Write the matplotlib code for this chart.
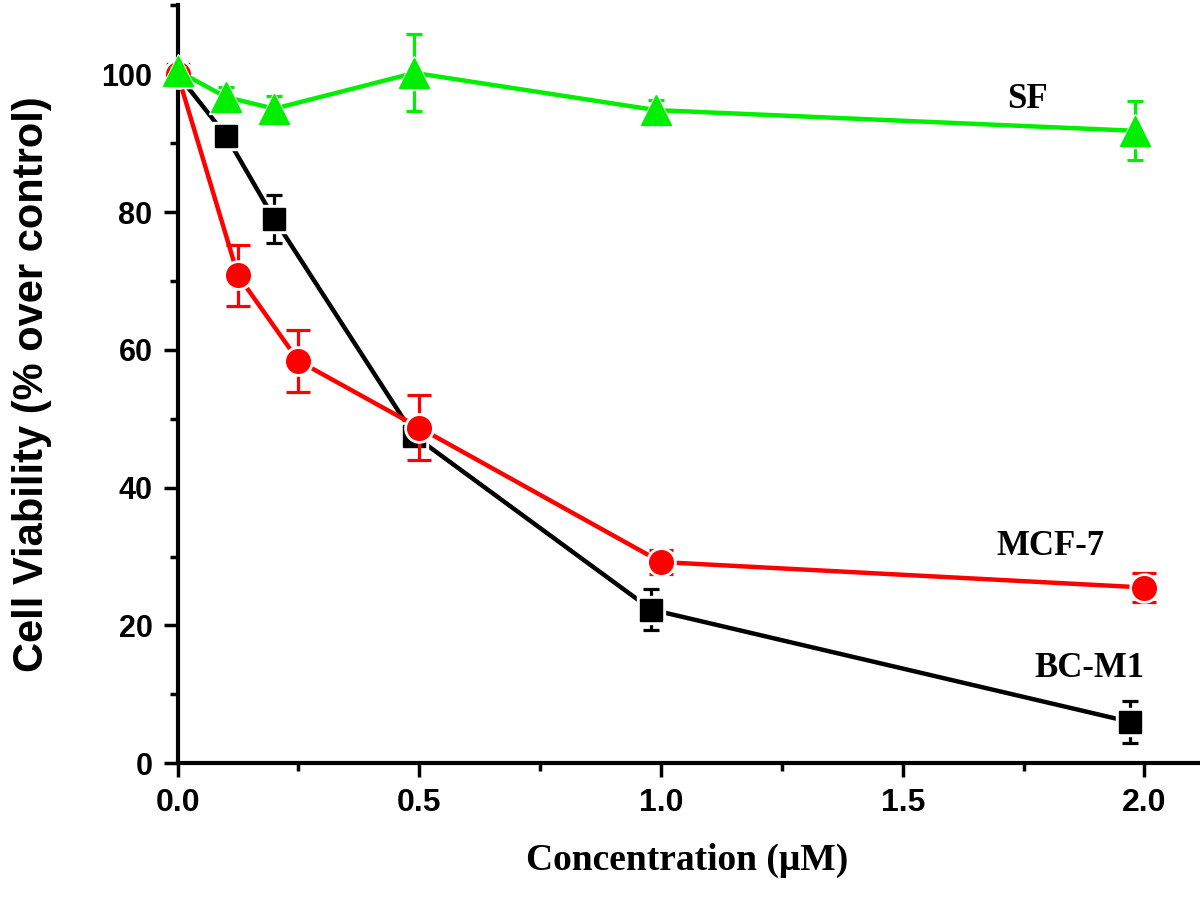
import numpy as np
import matplotlib.pyplot as plt
from matplotlib.ticker import MultipleLocator


# дані (концентрація, життєздатність, похибка)
conc_bcm1 = [0, 0.10, 0.20, 0.49, 0.98, 1.97]
bcm1 = [100, 91.1, 79.0, 47.5, 22.3, 6.0]
bcm1_err = [0.8, 1.5, 3.5, 1.2, 3.0, 3.0]

conc_mcf7 = [0, 0.125, 0.25, 0.50, 1.0, 2.0]
mcf7 = [100, 70.8, 58.4, 48.7, 29.2, 25.5]
mcf7_err = [0.8, 4.4, 4.5, 4.7, 1.7, 2.1]

conc_sf = [0, 0.10, 0.20, 0.49, 0.99, 1.98]
sf = [100.5, 96.7, 95.0, 100.2, 94.8, 91.8]
sf_err = [0.5, 1.5, 1.8, 5.6, 1.5, 4.3]

labels = ["SF", "MCF-7", "BC-M1"]
label_x = [1.758, 1.805, 1.886]
label_y = [96.4, 31.5, 13.8]

sans = ["Liberation Sans", "DejaVu Sans"]
serif = ["Liberation Serif", "DejaVu Serif"]

fig = plt.figure(figsize=(12, 9), dpi=100)
ax = fig.add_axes([0.148, 0.152, 0.85, 0.842])

# порядок: чорна, червона, зелена (зелена зверху)
series = [
    (conc_bcm1, bcm1, bcm1_err, "black", "s", 16, 6),
    (conc_mcf7, mcf7, mcf7_err, "#FF0000", "o", 17, 8.5),
    (conc_sf, sf, sf_err, "#00EE00", "^", 21, 6),
]

z = 2
for x, y, err, c, m, ms, cap in series:
    # лінія та похибки
    ax.errorbar(x, y, yerr=err, color=c, lw=3.2, elinewidth=2.3,
                capsize=cap, capthick=2.3, zorder=z, clip_on=False)
    # білий ореол навколо маркерів (проміжок як в Origin)
    ax.plot(x, y, ls="none", marker=m, ms=ms + 4, color="white",
            zorder=z + 1, clip_on=False)
    ax.plot(x, y, ls="none", marker=m, ms=ms, color=c, mec=c,
            zorder=z + 2, clip_on=False)
    z += 3

for t, tx, ty in zip(labels, label_x, label_y):
    ax.text(tx, ty, t, ha="center", va="center", fontsize=25,
            fontweight="bold", family=serif)

ax.set_xlim(0, 2.11)
ax.set_ylim(0, 110)
ax.set_xticks([0, 0.5, 1.0, 1.5, 2.0])
ax.set_xticklabels(["0.0", "0.5", "1.0", "1.5", "2.0"])
ax.set_yticks([0, 20, 40, 60, 80, 100])
ax.xaxis.set_minor_locator(MultipleLocator(0.25))
ax.yaxis.set_minor_locator(MultipleLocator(10))

for s in ["top", "right"]:
    ax.spines[s].set_visible(False)
for s in ["left", "bottom"]:
    ax.spines[s].set_linewidth(3)

ax.tick_params(which="major", length=10, width=2.5, direction="out", pad=8)
ax.tick_params(which="minor", length=6, width=2.5, direction="out")
for lab in ax.get_yticklabels():
    lab.set_family(sans)
    lab.set_fontweight("bold")
    lab.set_fontsize(22)
for lab in ax.get_xticklabels():
    lab.set_family(sans)
    lab.set_fontweight("bold")
    lab.set_fontsize(23)

ax.set_xlabel("Concentration (\u03bcM)", fontsize=27, fontweight="bold",
              family=serif, labelpad=18)
ax.set_ylabel("Cell Viability (% over control)", fontsize=30,
              fontweight="bold", family=sans, labelpad=36)

plt.savefig("out.png", dpi=100)
